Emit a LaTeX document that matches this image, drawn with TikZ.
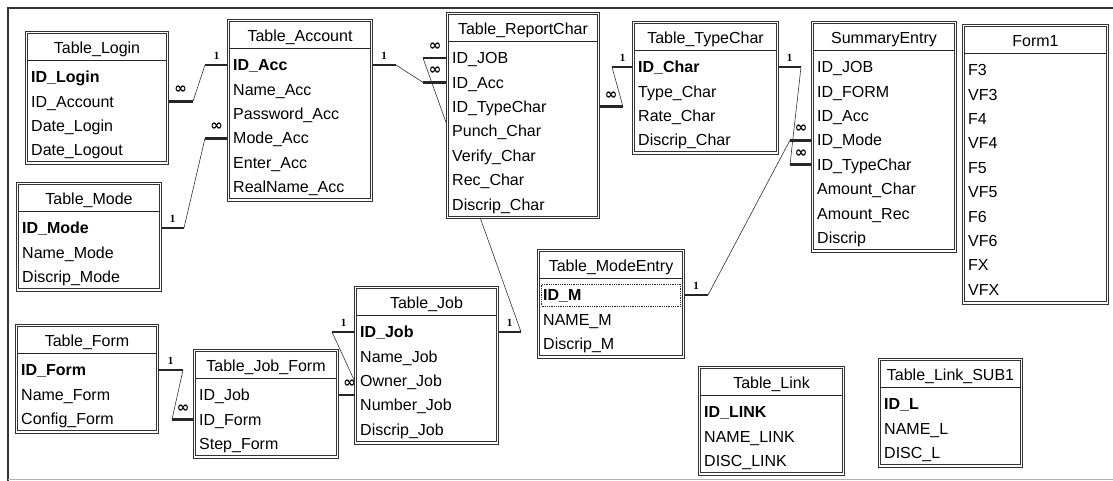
\documentclass[tikz,border=0pt]{standalone}
\usepackage{fontspec}
\setmainfont{Liberation Sans}
\newfontfamily\cardfont{Liberation Serif}
\newfontfamily\symfont{DejaVu Sans}
\usetikzlibrary{calc,backgrounds}

\newcommand{\tabfont}{\fontsize{16}{19}\selectfont}

\tikzset{
  frame/.style={line width=1.8pt, draw=black!80},
  tabbox/.style={draw=black!80, double, double distance=1.8pt, line width=1pt, fill=white, inner sep=0pt, anchor=north west},
  tabtitle/.style={font=\tabfont, inner sep=0pt, text height=11.5pt, text depth=0pt, anchor=center},
  tabfield/.style={font=\tabfont, inner sep=0pt, text height=11.5pt, text depth=0pt, anchor=west},
  titlerule/.style={line width=1.2pt, draw=black!85},
  stub/.style={line width=2.8pt, draw=black!85},
  rel/.style={line width=0.6pt, draw=black!80},
  one/.style={font=\cardfont\bfseries\fontsize{11}{11}\selectfont, inner sep=0pt, above=4.5pt},
  many/.style={font=\symfont\bfseries\fontsize{15}{15}\selectfont, inner sep=0pt, text height=6pt, above=6pt},
}

\newcommand{\dbtable}[7]{%
  \pgfmathsetmacro{\tabh}{57.5+(#5-1)*24.4}
  \node[tabbox, minimum width=#4pt, minimum height=\tabh pt] (#1) at (#2,#3) {};
  \node[tabtitle] (#1-t) at ($(#1.north)+(0,16)$) {#6};
  \draw[titlerule] ($(#1.north west)+(2,28.5)$) -- ($(#1.north east)+(-2,28.5)$);
  \foreach \f [count=\i] in {#7}
    \node[tabfield] (#1-\i) at ($(#1.north west)+(5,{45+(\i-1)*24.4})$) {\f};
}

\begin{document}
\begin{tikzpicture}[x=1pt, y=-1pt]
\useasboundingbox (0,0) rectangle (1113,481);
\draw[frame] (8,481) -- (8,8) -- (1113,8);
\draw[black!30, line width=0.8pt] (8,479.5) -- (1113,479.5);

\dbtable{login}{26}{32}{141}{4}{Table\_Login}{\textbf{ID\_Login}, ID\_Account, Date\_Login, Date\_Logout}
\dbtable{acc}{228}{20}{143}{6}{Table\_Account}{\textbf{ID\_Acc}, Name\_Acc, Password\_Acc, Mode\_Acc, Enter\_Acc, RealName\_Acc}
\dbtable{rc}{447}{13}{151}{7}{Table\_ReportChar}{ID\_JOB, ID\_Acc, ID\_TypeChar, Punch\_Char, Verify\_Char, Rec\_Char, Discrip\_Char}
\dbtable{tc}{633}{22}{144}{4}{Table\_TypeChar}{\textbf{ID\_Char}, Type\_Char, Rate\_Char, Discrip\_Char}
\dbtable{se}{812}{22}{143}{8}{SummaryEntry}{ID\_JOB, ID\_FORM, ID\_Acc, ID\_Mode, ID\_TypeChar, Amount\_Char, Amount\_Rec, Discrip}
\dbtable{formone}{963}{25}{144}{10}{Form1}{F3, VF3, F4, VF4, F5, VF5, F6, VF6, FX, VFX}
\dbtable{mode}{17}{183}{143}{3}{Table\_Mode}{\textbf{ID\_Mode}, Name\_Mode, Discrip\_Mode}
\dbtable{form}{16}{325}{141}{3}{Table\_Form}{\textbf{ID\_Form}, Name\_Form, Config\_Form}
\dbtable{jf}{194}{350}{143}{3}{Table\_Job\_Form}{ID\_Job, ID\_Form, Step\_Form}
\dbtable{job}{355}{287}{142}{5}{Table\_Job}{\textbf{ID\_Job}, Name\_Job, Owner\_Job, Number\_Job, Discrip\_Job}
\dbtable{me}{538}{250}{145}{3}{Table\_ModeEntry}{\textbf{ID\_M}, NAME\_M, Discrip\_M}
\dbtable{link}{699}{367}{144}{3}{Table\_Link}{\textbf{ID\_LINK}, NAME\_LINK, DISC\_LINK}
\dbtable{sub}{879}{359}{142}{3}{Table\_Link\_SUB1}{\textbf{ID\_L}, NAME\_L, DISC\_L}

\node[draw=black!85, densely dotted, line width=0.8pt, inner sep=0pt, minimum width=139pt, minimum height=22pt] (me-sel) at (me.center |- me-1) {};

\begin{scope}[on background layer]
  \draw[stub] (login.east |- login-2) -- ++(25,0) node[many, midway] (m1) {∞} coordinate[pos=1] (r1a);
  \draw[stub] (acc.west |- acc-1) -- ++(-23,0) node[one, midway] (o1) {1} coordinate[pos=1] (r1b);
  \draw[rel] (r1a) -- (r1b);

  \draw[stub] (mode.east |- mode-1) -- ++(23,0) node[one, midway] (o2) {1} coordinate[pos=1] (r2a);
  \draw[stub] (acc.west |- acc-4) -- ++(-23,0) node[many, midway] (m2) {∞} coordinate[pos=1] (r2b);
  \draw[rel] (r2a) -- (r2b);

  \draw[stub] (acc.east |- acc-1) -- ++(24,0) node[one, midway] (o3) {1} coordinate[pos=1] (r3a);
  \draw[stub] (rc.west |- rc-2) -- ++(-24,0) node[many, midway] (m3) {∞} coordinate[pos=1] (r3b);
  \draw[rel] (r3a) -- (r3b);

  \draw[stub] (job.east |- job-1) -- ++(23,0) node[one, midway] (o4) {1} coordinate[pos=1] (r4a);
  \draw[stub] (rc.west |- rc-1) -- ++(-24,0) node[many, midway] (m4) {∞} coordinate[pos=1] (r4b);
  \draw[rel] (r4a) -- (r4b);

  \draw[stub] (rc.east |- rc-3) -- ++(24,0) node[many, midway] (m5) {∞} coordinate[pos=1] (r5a);
  \draw[stub] (tc.west |- tc-1) -- ++(-21,0) node[one, midway] (o5) {1} coordinate[pos=1] (r5b);
  \draw[rel] (r5a) -- (r5b);

  \draw[stub] (tc.east |- tc-1) -- ++(23,0) node[one, midway] (o6) {1} coordinate[pos=1] (r6a);
  \draw[stub] (se.west |- se-5) -- ++(-22,0) node[many, midway] (m6) {∞} coordinate[pos=1] (r6b);
  \draw[rel] (r6a) -- (r6b);

  \draw[stub] (me.east |- me-1) -- ++(24,0) node[one, midway] (o7) {1} coordinate[pos=1] (r7a);
  \draw[stub] (se.west |- se-4) -- ++(-22,0) node[many, midway] (m7) {∞} coordinate[pos=1] (r7b);
  \draw[rel] (r7a) -- (r7b);

  \draw[stub] (form.east |- form-1) -- ++(25,0) node[one, midway] (o8) {1} coordinate[pos=1] (r8a);
  \draw[stub] (jf.west |- jf-2) -- ++(-22,0) node[many, midway] (m8) {∞} coordinate[pos=1] (r8b);
  \draw[rel] (r8a) -- (r8b);

  \draw[stub] (job.west |- job-1) -- ++(-23,0) node[one, midway] (o9) {1} coordinate[pos=1] (r9a);
  \draw[stub] (jf.east |- jf-1) -- ++(23,0) node[many, midway] (m9) {∞} coordinate[pos=1] (r9b);
  \draw[rel] (r9a) -- (r9b);
\end{scope}
\end{tikzpicture}
\end{document}
